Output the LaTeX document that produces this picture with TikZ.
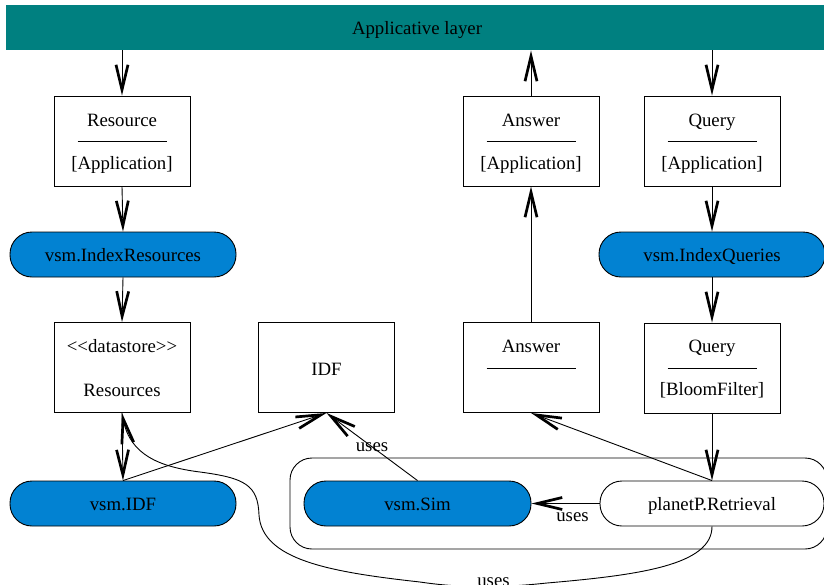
\documentclass[tikz,border=0pt]{standalone}
\usepackage{fontspec}
\setmainfont{Liberation Serif}
\usetikzlibrary{arrows.meta,calc}
\definecolor{barteal}{RGB}{0,128,128}
\definecolor{procblue}{RGB}{2,130,210}
\begin{document}
\begin{tikzpicture}[x=1pt,y=-1pt,
  font=\fontsize{18.8pt}{22pt}\selectfont,
  line width=0.9pt,
  >={Straight Barb[length=25pt,width=12pt,line width=2.7pt 0]},
  cls/.style={draw, minimum width=136, minimum height=90, inner sep=0pt},
  proc/.style={draw, rounded corners=22pt, minimum width=226, minimum height=45,
               inner sep=0pt, fill=procblue, text height=14pt, text depth=0pt},
  wproc/.style={proc, fill=white},
  lbl/.style={inner sep=1pt, anchor=base},
  sep/.style={line width=0.8pt},
  conn/.style={->}]
\useasboundingbox (0,0) rectangle (824,584);
\clip (0,0) rectangle (824,584);

% Applicative layer bar
\node[fill=barteal, minimum width=822, minimum height=45, inner sep=0pt,
      text height=14pt, text depth=0pt] (app) at (417,27.5) {Applicative layer};

% top class boxes
\node[cls] (res) at (122,141) {};
\node[lbl] at (122,126) {Resource};
\draw[sep] (77.5,141) -- (166.5,141);
\node[lbl] at (122,169) {[Application]};

\node[cls] (ans1) at (531,141) {};
\node[lbl] at (531,126) {Answer};
\draw[sep] (486.5,141) -- (575.5,141);
\node[lbl] at (531,169) {[Application]};

\node[cls] (qry1) at (712,141) {};
\node[lbl] at (712,126) {Query};
\draw[sep] (667.5,141) -- (756.5,141);
\node[lbl] at (712,169) {[Application]};

% processes row 1
\node[proc] (idxres) at (123,254.5) {vsm.IndexResources};
\node[proc] (idxq) at (712,254.5) {vsm.IndexQueries};

% bottom class boxes
\node[cls] (resources) at (122,367.5) {};
\node[lbl] at (122,352) {{<}{<}datastore{>}{>}};
\node[lbl] at (122,396) {Resources};

\node[cls] (idf) at (326.5,367.5) {};
\node[lbl] at (326.5,375) {IDF};

\node[cls] (ans2) at (531,367.5) {};
\node[lbl] at (531,352) {Answer};
\draw[sep] (486.5,368) -- (575.5,368);

\node[cls] (qry2) at (712,368) {};
\node[lbl] at (712,352) {Query};
\draw[sep] (667.5,368) -- (756.5,368);
\node[lbl] at (712,395) {[BloomFilter]};

% group container
\node[draw, rounded corners=22pt, minimum width=537, minimum height=91, inner sep=0pt]
  (grp) at (558.5,503.5) {};

% processes row 2
\node[proc] (vidf) at (123,503.5) {vsm.IDF};
\node[proc, minimum width=227] (vsim) at (417.5,503.5) {vsm.Sim};
\node[wproc, minimum width=224] (pp) at (712,503.5) {planetP.Retrieval};

% connectors
\draw[conn] (app.south -| res.north) -- (res.north);
\draw[conn] (ans1.north) -- (app.south -| ans1.north);
\draw[conn] (app.south -| qry1.north) -- (qry1.north);
\draw[conn] (res.south) -- (idxres.north);
\draw[conn] (idxres.south) -- (resources.north);
\draw[conn] (ans2.north) -- (ans1.south);
\draw[conn] (qry1.south) -- (idxq.north);
\draw[conn] (idxq.south) -- (qry2.north);
\draw[conn] (qry2.south) -- (pp.north);
\draw[conn] (pp.north) -- (ans2.south);
\draw[conn] (resources.south) -- (vidf.north);
\draw[conn] (vidf.north) -- (idf.south);
\draw[conn] (vsim.north) -- node[inner sep=1pt]{uses} (idf.south);
\draw[conn] (pp.west) -- node[inner sep=1pt, yshift=-13.5pt, xshift=7pt]{uses} (vsim.east);
\draw[conn] (pp.south) .. controls (712,565) and (640,575) .. (547,583)
  .. controls (500,588) and (460,588) .. node[pos=0.4, inner sep=1pt, yshift=4.5pt]{uses} (420,582)
  .. controls (330,572) and (262,560) .. (259,515)
  .. controls (258,485) and (245,478) .. (200,472)
  .. controls (160,467) and (130,455) .. (resources.south);
\end{tikzpicture}
\end{document}
